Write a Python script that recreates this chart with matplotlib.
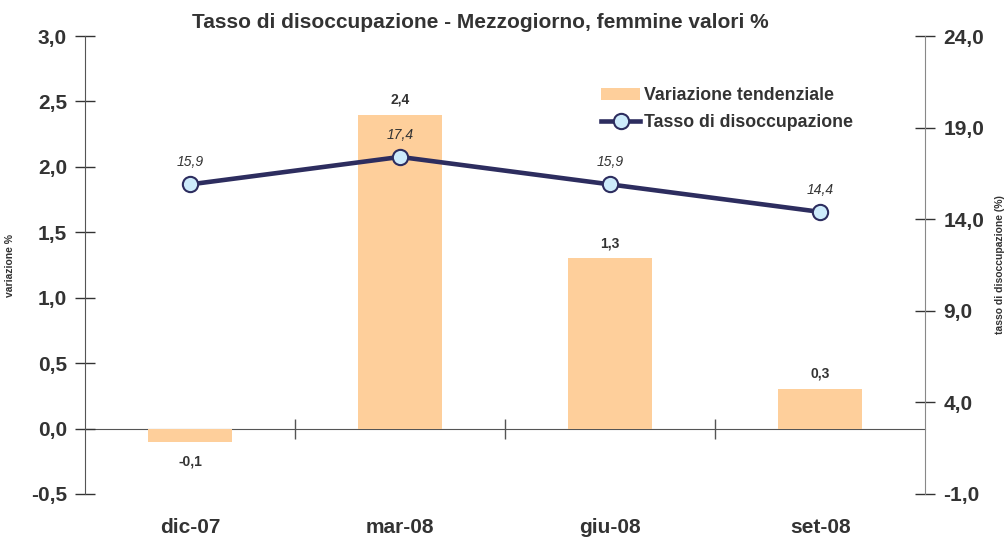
import matplotlib.pyplot as plt
import numpy as np

plt.rcParams['font.family'] = ['Liberation Sans', 'DejaVu Sans']

# dati
categorie = ["dic-07", "mar-08", "giu-08", "set-08"]
variazione = [-0.1, 2.4, 1.3, 0.3]
tasso = [15.9, 17.4, 15.9, 14.4]
tick_sx = [-0.5, 0.0, 0.5, 1.0, 1.5, 2.0, 2.5, 3.0]
tick_dx = [-1.0, 4.0, 9.0, 14.0, 19.0, 24.0]

testo = '#333333'
barre = '#FECF9B'
linea = '#2D2D5F'

def virgola(v):
    return f"{v:.1f}".replace('.', ',')

fig = plt.figure(figsize=(10.05, 5.4), dpi=100)
ax = fig.add_axes([0.0846, 0.0852, 0.836, 0.8481])
ax2 = ax.twinx()

x = np.arange(len(categorie))
b = ax.bar(x, variazione, width=0.4, color=barre, zorder=2, label="Variazione tendenziale")
for xi, v in zip(x, variazione):
    off = 6 if v >= 0 else -9
    ax.annotate(virgola(v), (xi, v), xytext=(0, off), textcoords='offset points',
                ha='center', va='bottom' if v >= 0 else 'top', fontsize=10,
                fontweight='bold', color=testo)

ax.set_xlim(-0.5, len(categorie) - 0.5)
ax.set_ylim(tick_sx[0], tick_sx[-1])
ax.set_yticks(tick_sx, [virgola(t) for t in tick_sx])
ax.set_xticks(x, categorie)
ax.tick_params(axis='x', length=0, pad=17, labelsize=15, colors=testo)
ax.tick_params(axis='y', direction='inout', length=14, width=1, labelsize=15,
               colors=testo, pad=6)
for lab in ax.get_xticklabels() + ax.get_yticklabels():
    lab.set_fontweight('bold')
ax.spines['top'].set_visible(False)
ax.spines['bottom'].set_visible(False)
ax.spines['right'].set_visible(False)
ax.spines['left'].set_color('#555555')
ax.set_ylabel("variazione %", fontsize=7.5, fontweight='bold', color=testo)
ax.yaxis.set_label_coords(-0.083, 0.5)

# asse dello zero con tacche tra le categorie
zero = (0 - tick_sx[0]) / (tick_sx[-1] - tick_sx[0])
sec = ax.secondary_xaxis(zero)
sec.set_xticks(x[:-1] + 0.5, ['', '', ''])
sec.tick_params(direction='inout', length=14, width=1, color='#555555')
sec.spines['bottom'].set_color('#555555')

l, = ax2.plot(x, tasso, color=linea, lw=3.3, marker='o', markersize=11,
              markerfacecolor='#CDEBFB', markeredgecolor=linea, markeredgewidth=1.5,
              zorder=3, label="Tasso di disoccupazione")
for xi, v in zip(x, tasso):
    ax2.annotate(virgola(v), (xi, v), xytext=(0, 11), textcoords='offset points',
                 ha='center', va='bottom', fontsize=10, fontstyle='italic', color=testo)
ax2.set_ylim(tick_dx[0], tick_dx[-1])
ax2.set_yticks(tick_dx, [virgola(t) for t in tick_dx])
ax2.tick_params(axis='y', direction='inout', length=14, width=1, labelsize=15,
                colors=testo, pad=6)
for lab in ax2.get_yticklabels():
    lab.set_fontweight('bold')
for s in ['top', 'bottom', 'left']:
    ax2.spines[s].set_visible(False)
ax2.spines['right'].set_color('#888888')
ax2.set_ylabel("tasso di disoccupazione (%)", fontsize=7.5, fontweight='bold',
               color=testo)
ax2.yaxis.set_label_coords(1.083, 0.5)

leg = ax2.legend([b, l], ["Variazione tendenziale", "Tasso di disoccupazione"],
                 loc='upper left', bbox_to_anchor=(0.606, 0.904), frameon=False,
                 prop={'weight': 'bold', 'size': 12.8}, handlelength=2.2,
                 handletextpad=0.2, labelspacing=0.57, borderaxespad=0)
for t in leg.get_texts():
    t.set_color(testo)

fig.text(0.478, 0.958, "Tasso di disoccupazione - Mezzogiorno, femmine valori %",
         ha='center', va='center', fontsize=15, fontweight='bold', color=testo)

plt.savefig("out.png", dpi=100)
